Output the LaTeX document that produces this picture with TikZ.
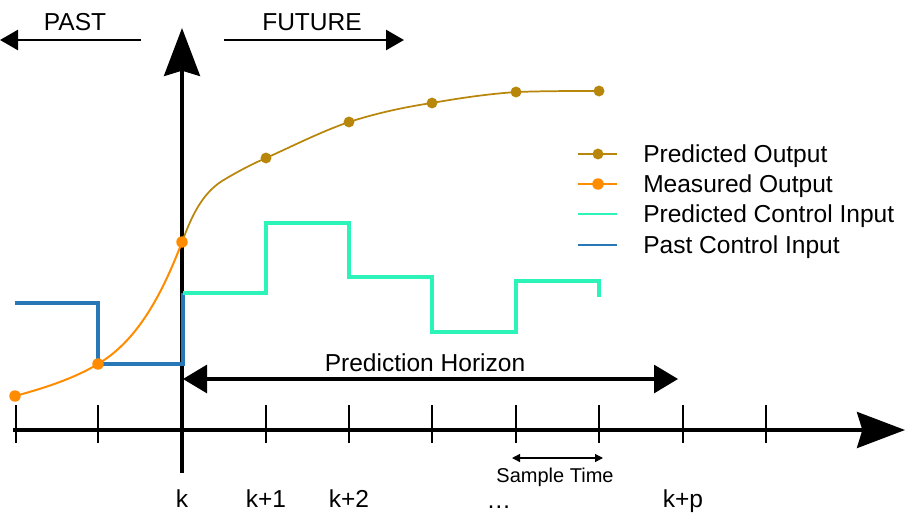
\documentclass[tikz,border=0pt]{standalone}
\usepackage{fontspec}
\setmainfont{Liberation Sans}
\usetikzlibrary{arrows.meta, positioning}

\definecolor{predout}{HTML}{B8860B}
\definecolor{measout}{HTML}{FF8C00}
\definecolor{predin}{HTML}{2CF4B8}
\definecolor{pastin}{HTML}{2878B8}

\tikzset{
  axis/.style={line width=2.6pt, -{Stealth[length=36pt, width=27pt, inset=4pt]}},
  tickmark/.style={line width=2.2pt},
  dirarrow/.style={line width=1.9pt, -{Triangle[length=13.5pt, width=15pt]}},
  horizon/.style={line width=2.3pt, {Triangle[length=18pt, width=21pt]}-{Triangle[length=18pt, width=21pt]}},
  sample/.style={line width=0.9pt, {Triangle[length=6pt, width=6pt]}-{Triangle[length=6pt, width=6pt]}},
  predoutline/.style={predout, line width=1.3pt},
  measoutline/.style={measout, line width=1.5pt},
  predinline/.style={predin, line width=2.3pt},
  pastinline/.style={pastin, line width=2.3pt},
  lbl/.style={anchor=base, inner sep=0pt},
  legtext/.style={anchor=base west, inner sep=0pt}
}

\begin{document}
\begin{tikzpicture}[x=0.75pt, y=-0.75pt, font=\fontsize{18.4}{22}\selectfont]
  \useasboundingbox (0,0) rectangle (906,514);

  % axes
  \coordinate (tstart) at (13,430);
  \coordinate (tend) at (905,430);
  \coordinate (kbot) at (182,473);
  \coordinate (ktop) at (182,28);
  \draw[axis] (tstart) -- (tend);
  \draw[axis] (kbot) -- (ktop);
  \foreach \x in {16,98,182,266,349,432,516,599,683,766}
    \draw[tickmark] (\x,405) -- (\x,443);

  % past / future
  \node[lbl] (past) at (75,31) {PAST};
  \node[lbl] (future) at (312,31) {FUTURE};
  \coordinate (pastfrom) at (141,40);
  \coordinate (pastto) at (0,40);
  \coordinate (futfrom) at (224,40);
  \coordinate (futto) at (404,40);
  \draw[dirarrow] (pastfrom) -- (pastto);
  \draw[dirarrow] (futfrom) -- (futto);

  % control inputs
  \draw[pastinline] (15,303) -- (98,303) -- (98,364) -- (183,364) -- (183,293);
  \draw[predinline] (183,293) -- (266,293) -- (266,223) -- (349,223) -- (349,277)
    -- (432,277) -- (432,332) -- (516,332) -- (516,281) -- (599,281) -- (599,297);

  % outputs
  \draw[measoutline] (15,396) .. controls (45,388) and (75,378) .. (98,364)
    .. controls (135,342) and (160,300) .. (182,242);
  \draw[predoutline] (182,242) .. controls (190,221) and (200,195) .. (222,181)
    .. controls (237,172) and (250,165) .. (266,158)
    .. controls (293,146) and (320,132) .. (349,122)
    .. controls (377,113) and (405,107) .. (432,103)
    .. controls (460,98) and (488,94) .. (516,92)
    .. controls (545,91) and (570,91) .. (599,91);
  \foreach \x/\y in {266/158,349/122,432/103,516/92,599/91}
    \fill[predout] (\x,\y) circle[radius=4.1pt];
  \foreach \x/\y in {15/396,98/364,182/242}
    \fill[measout] (\x,\y) circle[radius=4.3pt];

  % prediction horizon
  \coordinate (hleft) at (183,379);
  \coordinate (hright) at (678,379);
  \draw[horizon] (hleft) -- (hright);
  \node[lbl] (horizon) at (425,371) {Prediction Horizon};

  % sample time
  \coordinate (sleft) at (512,458);
  \coordinate (sright) at (603,458);
  \draw[sample] (sleft) -- (sright);
  \node[lbl, font=\fontsize{15}{18}\selectfont] (sampletime) at (555,482) {Sample Time};

  % time labels
  \node[lbl] (k0) at (182,507) {k};
  \node[lbl] (k1) at (266,507) {k+1};
  \node[lbl] (k2) at (349,507) {k+2};
  \node[lbl] (kdots) at (499,508) {…};
  \node[lbl] (kp) at (683,507) {k+p};

  % legend
  \draw[predoutline] (578,154) -- (617,154);
  \fill[predout] (598,154) circle[radius=4.1pt];
  \draw[measoutline] (578,184) -- (617,184);
  \fill[measout] (598,184) circle[radius=4.3pt];
  \draw[predinline, line width=1.6pt] (578,214) -- (617,214);
  \draw[pastinline, line width=1.6pt] (578,245) -- (617,245);
  \node[legtext] (legpo) at (643,162) {Predicted Output};
  \node[legtext] (legmo) at (643,192) {Measured Output};
  \node[legtext] (legpi) at (643,222) {Predicted Control Input};
  \node[legtext] (legci) at (643,253) {Past Control Input};
\end{tikzpicture}
\end{document}
